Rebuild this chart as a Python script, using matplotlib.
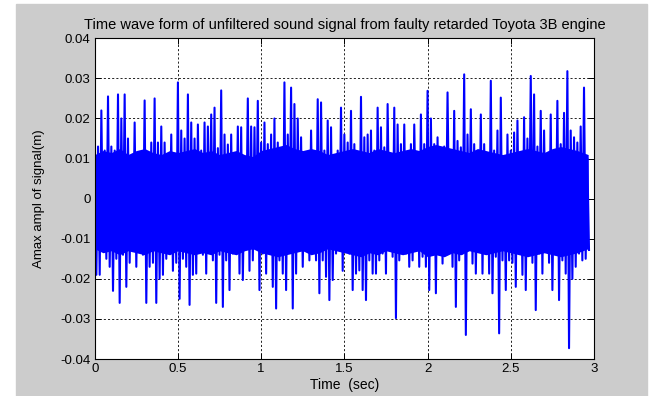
import numpy as np
import matplotlib
matplotlib.use('Agg')
import matplotlib.pyplot as plt
from matplotlib.patches import Rectangle

plt.rcParams['font.family'] = ['Liberation Sans', 'DejaVu Sans']

# пиковые значения сигнала (в тысячных), шаг 0.02 с, начиная с 0
dt = 0.02
up_milli = [
  14, 13, 22, 12, 25.5, 13, 12, 26, 20, 26, 15, 8, 19, 11, 9.6, 24.5, 10, 14, 25, 14, 18, 14, 7, 16, 10,
  29, 17, 15, 26, 19, 15, 18.5, 12, 19, 18, 21, 22.7, 12.6, 27, 16, 13.5, 16, 11, 18, 17.8, 7, 25, 18, 17.8, 24.4,
  14, 19, 13.6, 16, 20, 14, 12, 29, 16, 27.7, 23.6, 20, 15.3, 9.5, 11, 17, 7.8, 24.8, 24, 12, 19.5, 17.8, 9.5, 12, 22.7,
  16, 14, 21.9, 13.6, 10.3, 25.4, 15.3, 16, 17, 12, 22.7, 17.8, 12.8, 23.6, 9.5, 22.7, 18.5, 13.6, 18.5, 7.8, 13.6, 18.5, 9.5, 21, 13.6,
  26.9, 20, 13.6, 15.3, 11, 13, 26.5, 10, 21.9, 14.4, 12.8, 31, 16, 22.3, 13.6, 10.3, 21, 13.6, 11, 29.4, 12, 17, 25.2, 9.5, 16,
  12, 16.5, 19.5, 10.3, 20.3, 15, 30.6, 26, 13, 21.9, 17, 9.5, 21, 9.5, 24.4, 13.6, 21.4, 31.8, 17, 15.3, 14, 18, 27.7, 10,
]
down_milli = [
  -19, -19, -12, -15, -17, -23, -15, -26, -14, -22, -16, -13, -17, -9, -14, -26, -17, -16, -26, -20, -19, -15, -12, -18, -16,
  -25, -15, -17, -26.5, -19, -18.7, -9.6, -14, -18.7, -12, -15.4, -26, -14, -27, -15.4, -22.8, -13.7, -11, -18.7, -20.3, -9.6, -18, -15.4, -12, -22.8,
  -13.7, -18.7, -12, -22, -27.4, -15.4, -18.7, -22.8, -12.5, -27.4, -18.7, -12, -17, -10.5, -15.4, -8, -15.4, -23.6, -15.4, -19.5, -25.3, -20.3, -13.7, -12.8, -18,
  -12, -13.7, -22.8, -18.7, -17.9, -22.8, -25.3, -15.4, -18.7, -18.7, -15.4, -13.7, -18.7, -8, -14.5, -29.8, -15.4, -11, -13.7, -17, -15.4, -6, -17, -14.5, -17,
  -22.8, -13.7, -23.6, -13.7, -16.2, -12, -7, -17, -27, -15.4, -13.7, -34, -12, -16.2, -18.7, -12, -18.7, -11.3, -18.7, -23.6, -14.5, -33.6, -15.4, -22.8, -15.4,
  -16, -22, -12, -19, -22.8, -13, -16, -27.8, -13.7, -18.7, -12, -16, -22.8, -12.8, -25.3, -15.4, -18.7, -37.3, -20, -17, -13.7, -15.4, -15, -12.8,
]

# сплошная полоса шума (в тысячных), шаг 0.05 с
core_t = [0, 0.05, 0.1, 0.15, 0.2, 0.25, 0.3, 0.35, 0.4, 0.45, 0.5, 0.55, 0.6, 0.65, 0.7, 0.75,
          0.8, 0.85, 0.9, 0.95, 1.0, 1.05, 1.1, 1.15, 1.2, 1.25, 1.3, 1.35, 1.4, 1.45, 1.5,
          1.55, 1.6, 1.65, 1.7, 1.75, 1.8, 1.85, 1.9, 1.95, 2.0, 2.05, 2.1, 2.15, 2.2, 2.25,
          2.3, 2.35, 2.4, 2.45, 2.5, 2.55, 2.6, 2.65, 2.7, 2.75, 2.8, 2.85, 2.9, 2.965]
core_top_milli = [11, 12, 11.5, 12.5, 11, 12, 12.5, 11.5, 11, 12, 11.5, 12, 12.5, 11.5, 12, 11,
                  11.5, 12, 11, 10.5, 12, 12.5, 13, 13.5, 12.5, 12, 12.5, 12, 11, 11.5, 12,
                  12.5, 12, 11.5, 12.5, 12, 11.5, 12, 12.5, 12, 13, 13.5, 13, 12.5, 12, 11.5,
                  12.5, 12, 11.5, 11, 11.5, 12, 12.5, 12, 11.5, 12.5, 13, 12.5, 12, 11]
core_bot_milli = [-12.5, -13.5, -13, -14, -13, -13.5, -14, -13, -13.5, -14, -13, -13.5, -14, -13.5, -14, -13,
                  -13.5, -14, -13, -12.5, -13.5, -14, -14.5, -14, -13.5, -13, -14, -13.5, -12.5, -13, -13.5,
                  -14, -14.5, -13.5, -14, -13, -13.5, -14, -13.5, -13, -14.5, -14, -14.5, -13.5, -14, -13,
                  -13.5, -14, -13.5, -13, -13.5, -14, -14.5, -14, -13.5, -14, -14.5, -14, -13.5, -12.5]

xticks = [0, 0.5, 1, 1.5, 2, 2.5, 3]
yticks = [-0.04, -0.03, -0.02, -0.01, 0, 0.01, 0.02, 0.03, 0.04]
ytick_labels = ['-0.04', '-0.03', '-0.02', '-0.01', '0', '0.01', '0.02', '0.03', '0.04']

up = np.array(up_milli) / 1000
down = np.array(down_milli) / 1000
t = np.arange(len(up)) * dt
x = np.empty(2 * len(up))
y = np.empty(2 * len(up))
x[0::2] = t
x[1::2] = t + dt / 2
y[0::2] = up
y[1::2] = down

fig = plt.figure(figsize=(6.6, 3.96), dpi=100, facecolor='white')
# серый фон окна MATLAB
bg = Rectangle((16 / 660, 0), (647 - 16) / 660, 392 / 396,
               transform=fig.transFigure, color='#cccccc', zorder=-10)
fig.add_artist(bg)

ax = fig.add_axes([94.7 / 660, 37 / 396, 499.3 / 660, 320.7 / 396])
ax.set_facecolor('white')
ax.set_axisbelow(True)
ax.fill_between(core_t, np.array(core_bot_milli) / 1000, np.array(core_top_milli) / 1000,
                color='#0000ff', linewidth=0, zorder=2)
ax.plot(x, y, color='#0000ff', linewidth=1.5, zorder=2)

ax.set_xlim(0, 3)
ax.set_ylim(-0.04, 0.04)
ax.set_xticks(xticks)
ax.set_xticklabels([str(v) for v in xticks])
ax.set_yticks(yticks)
ax.set_yticklabels(ytick_labels)
ax.grid(True, color='black', linestyle=(0, (2.5, 2.5)), linewidth=0.6)
ax.tick_params(direction='in', top=True, right=True, length=4, width=0.7,
               labelsize=9.5, pad=3, colors='black')
for s in ax.spines.values():
  s.set_linewidth(0.8)
  s.set_zorder(4)

ax.set_title('Time wave form of unfiltered sound signal from faulty retarded Toyota 3B engine',
             fontsize=10.5, pad=7)
ax.set_xlabel('Time  (sec)', fontsize=10, labelpad=2)
ax.set_ylabel('Amax ampl of signal(m)', fontsize=9.5, labelpad=11)

fig.savefig('out.png', dpi=100, facecolor=fig.get_facecolor())
